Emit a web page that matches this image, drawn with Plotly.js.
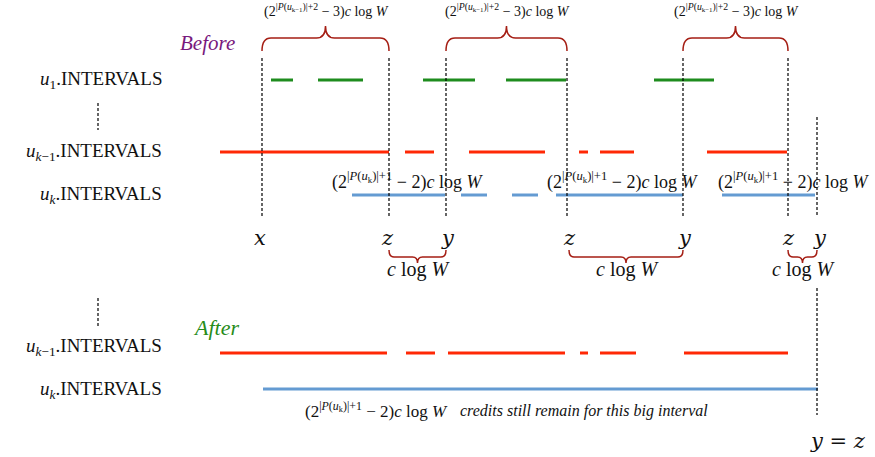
<!DOCTYPE html>
<html>
<head>
<meta charset="utf-8">
<script src="https://cdn.plot.ly/plotly-3.0.1.min.js"></script>
<style>html,body{margin:0;padding:0;background:#fff;}#chart{width:875px;height:457px;}</style>
</head>
<body>
<div id="chart"></div>
<script>
// ---- data (positions along the timeline, in pixel-like units) ----
var u1BeforeStarts = [271, 318, 423, 506, 654];
var u1BeforeEnds   = [293, 363, 475, 566, 714];
var ukm1BeforeStarts = [220, 405, 469, 579, 600, 707];
var ukm1BeforeEnds   = [389, 434, 545, 588, 634, 787];
var ukBeforeStarts = [352, 461, 512, 556, 722];
var ukBeforeEnds   = [445, 487, 538, 683, 815];
var ukm1AfterStarts = [220, 406, 448, 580, 600, 684];
var ukm1AfterEnds   = [387, 435, 565, 588, 636, 788];
var ukAfterStarts = [263];
var ukAfterEnds   = [818];
var markerX = [262, 389, 446, 567, 683, 788];
var lastY = 817;
var pointNames = ["x", "z", "y", "z", "y", "z", "y"];
var pointPos   = [260, 387, 448, 569, 685, 788, 820];
var topBraceStarts = [262, 446, 683];
var topBraceEnds   = [389, 567, 788];
var botBraceStarts = [389, 569, 788];
var botBraceEnds   = [446, 683, 817];
var blueLabelPos = [407, 622, 793];
var rowLabels = ["u1", "ukm1", "uk"];

// ---- styles ----
var GREEN = "rgb(30,140,30)", RED = "rgb(255,40,5)", BLUE = "rgb(100,155,210)", BRACE = "rgb(165,30,20)";
var SERIF = "Liberation Serif, serif";
var rowY = {u1: 80, ukm1: 152, uk: 195, ukm1A: 353, ukA: 389};

function segTrace(starts, ends, y, color) {
  var xs = [], ys = [];
  for (var i = 0; i < starts.length; i++) { xs.push(starts[i], ends[i], null); ys.push(y, y, null); }
  return {x: xs, y: ys, mode: "lines", type: "scatter", line: {color: color, width: 3}, hoverinfo: "skip", showlegend: false};
}
function dashTrace(xs0, y0, y1) {
  var xs = [], ys = [];
  for (var i = 0; i < xs0.length; i++) { xs.push(xs0[i], xs0[i], null); ys.push(y0, y1, null); }
  return {x: xs, y: ys, mode: "lines", type: "scatter", line: {color: "#000", width: 1.2, dash: "3px,2px"}, hoverinfo: "skip", showlegend: false};
}

var traces = [
  segTrace(u1BeforeStarts, u1BeforeEnds, rowY.u1, GREEN),
  segTrace(ukm1BeforeStarts, ukm1BeforeEnds, rowY.ukm1, RED),
  segTrace(ukBeforeStarts, ukBeforeEnds, rowY.uk, BLUE),
  segTrace(ukm1AfterStarts, ukm1AfterEnds, rowY.ukm1A, RED),
  segTrace(ukAfterStarts, ukAfterEnds, rowY.ukA, BLUE),
  dashTrace(markerX, 58, 217),
  dashTrace([lastY], 117, 217),
  dashTrace([lastY], 288, 415),
  dashTrace([98], 103, 130),
  dashTrace([98], 298, 326)
];

// braces as paths
function bracePath(x0, x1, yEnd, yBar, yTip, r) {
  var m = (x0 + x1) / 2;
  return "M" + x0 + "," + yEnd + " Q" + x0 + "," + yBar + " " + (x0 + r) + "," + yBar +
    " L" + (m - r) + "," + yBar + " Q" + m + "," + yBar + " " + m + "," + yTip +
    " Q" + m + "," + yBar + " " + (m + r) + "," + yBar +
    " L" + (x1 - r) + "," + yBar + " Q" + x1 + "," + yBar + " " + x1 + "," + yEnd;
}
var shapes = [];
for (var i = 0; i < topBraceStarts.length; i++) {
  shapes.push({type: "path", xref: "x", yref: "y", path: bracePath(topBraceStarts[i], topBraceEnds[i], 51, 38, 26, 9), line: {color: BRACE, width: 1.5}});
}
for (var j = 0; j < botBraceStarts.length; j++) {
  shapes.push({type: "path", xref: "x", yref: "y", path: bracePath(botBraceStarts[j], botBraceEnds[j], 250, 257, 263, 5), line: {color: BRACE, width: 1.5}});
}

var topLabel = "(2<sup>|<i>P</i>(<i>u</i><sub>k−1</sub>)|+2</sup> − 3)<i>c</i> log <i>W</i>";
var blueLabel = "(2<sup>|<i>P</i>(<i>u</i><sub>k</sub>)|+1</sup> − 2)<i>c</i> log <i>W</i>";
var rowText = {
  u1: "<i>u</i><sub>1</sub>.INTERVALS",
  ukm1: "<i>u</i><sub><i>k</i>−1</sub>.INTERVALS",
  uk: "<i>u</i><sub><i>k</i></sub>.INTERVALS"
};

var ann = [];
function A(x, y, text, size, opts) {
  var a = {x: x, y: y, xref: "x", yref: "y", text: text, showarrow: false, font: {family: SERIF, size: size, color: "#111"}, xanchor: "center", yanchor: "middle"};
  for (var k in (opts || {})) { if (k === "font") { for (var f in opts.font) a.font[f] = opts.font[f]; } else a[k] = opts[k]; }
  ann.push(a);
}
for (var i2 = 0; i2 < topBraceStarts.length; i2++) {
  A((topBraceStarts[i2] + topBraceEnds[i2]) / 2 + 1, 10, topLabel, 14);
}
for (var b = 0; b < blueLabelPos.length; b++) {
  A(blueLabelPos[b], 181, blueLabel, 18);
}
for (var r = 0; r < rowLabels.length; r++) {
  A(164, rowY[rowLabels[r]], rowText[rowLabels[r]], 19, {xanchor: "right"});
}
A(164, 347, rowText.ukm1, 19, {xanchor: "right"});
A(164, 390, rowText.uk, 19, {xanchor: "right"});
for (var p = 0; p < pointNames.length; p++) {
  A(pointPos[p], 238, "<i>" + pointNames[p] + "</i>", 21, {font: {family: "DejaVu Serif, serif"}});
}
for (var q = 0; q < botBraceStarts.length; q++) {
  A((botBraceStarts[q] + botBraceEnds[q]) / 2 + 1, 269, "<i>c</i> log <i>W</i>", 20);
}
A(207, 43, "<i>Before</i>", 21, {font: {color: "rgb(120,25,125)"}});
A(216, 327, "<i>After</i>", 22, {font: {color: "rgb(40,140,25)"}});
A(838, 441, "<i>y</i> = <i>z</i>", 21, {font: {family: "DejaVu Serif, serif"}});
A(303, 410, blueLabel, 17, {xanchor: "left"});
A(458, 411, "<i>credits still remain for this big interval</i>", 16, {xanchor: "left"});

var layout = {
  width: 875, height: 457,
  margin: {l: 0, r: 0, t: 0, b: 0},
  paper_bgcolor: "#fff", plot_bgcolor: "#fff",
  xaxis: {range: [0, 875], visible: false, fixedrange: true},
  yaxis: {range: [457, 0], visible: false, fixedrange: true},
  shapes: shapes,
  annotations: ann,
  showlegend: false
};
Plotly.newPlot("chart", traces, layout, {staticPlot: true, displayModeBar: false});
</script>
</body>
</html>
